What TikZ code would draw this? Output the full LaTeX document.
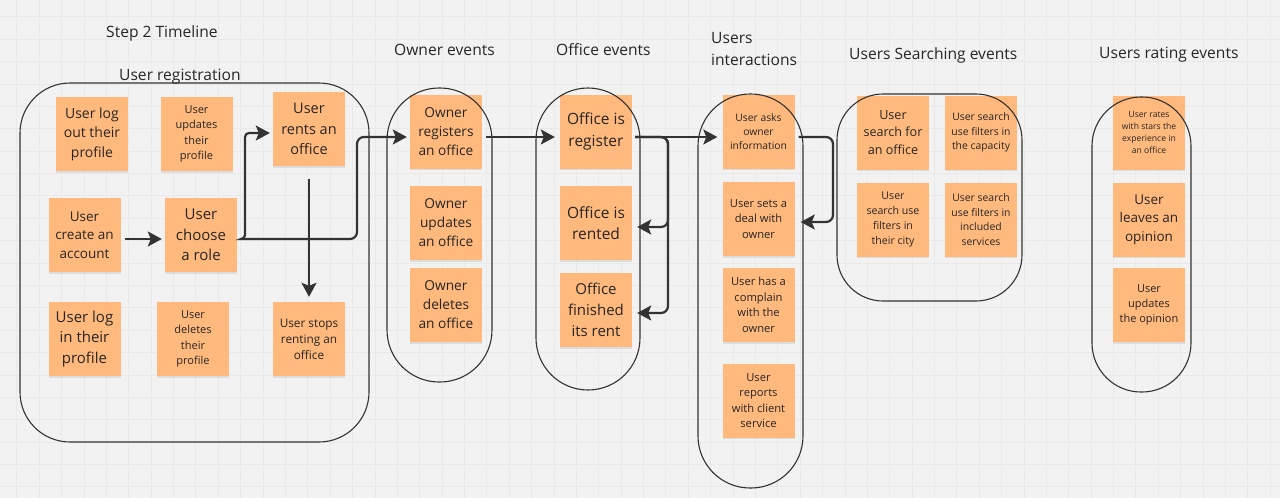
\documentclass[tikz,border=0pt]{standalone}
\usepackage{fontspec}
\setmainfont{Open Sans}
\usetikzlibrary{arrows.meta,calc,shadows}
\definecolor{bg}{RGB}{242,242,242}
\definecolor{gridc}{RGB}{233,233,233}
\definecolor{sticky}{RGB}{255,185,125}
\definecolor{ink}{RGB}{38,38,38}
\definecolor{arr}{RGB}{51,51,51}
\tikzset{
  note/.style={fill=sticky, minimum width=72pt, minimum height=74pt, inner sep=0pt, align=center, text=ink,
    drop shadow={shadow xshift=0pt, shadow yshift=-1.5pt, opacity=0.18}},
  fs/.style args={#1/#2}{font=\fontsize{#1}{#2}\selectfont},
  title/.style={font=\fontsize{15.6}{21.7}\selectfont, text=ink, inner sep=0pt, anchor=west, align=left},
  group/.style={draw=arr, line width=1.1pt},
  flow/.style={draw=arr, line width=2.2pt, rounded corners=7pt,
    -{Stealth[length=14pt, width=15pt, inset=3pt]}},
}
\begin{document}
\begin{tikzpicture}[x=1pt, y=-1pt]
  % background and grid
  \fill[bg] (0,0) rectangle (1280,498);
  \useasboundingbox (0,0) rectangle (1280,498);
  \foreach \i in {0,...,57} \draw[gridc, line width=0.7pt] ({16.8+22.38*\i},0) -- ({16.8+22.38*\i},498);
  \foreach \j in {0,...,21} \draw[gridc, line width=0.7pt] (0,{16.8+22.38*\j}) -- (1280,{16.8+22.38*\j});

  % titles
  \node[title] (t0) at (106,33) {Step 2 Timeline};
  \node[title] (t1) at (119,77) {User registration};
  \node[title] (t2) at (394,50) {Owner events};
  \node[title] (t3) at (556,50) {Office events};
  \node[title] (t4) at (711,49) {Users\\interactions};
  \node[title] (t5) at (849,55) {Users Searching events};
  \node[title] (t6) at (1099,55) {Users rating events};

  % user registration stickies
  \node[note, fs=14/19.5] (logout) at (92,134) {User log\\out their\\profile};
  \node[note, fs=11/15.3] (updates) at (196.5,134) {User\\updates\\their\\profile};
  \node[note, fs=14.5/20.5] (rents) at (309,129) {User\\rents an\\office};
  \node[note, fs=13.5/18.7] (create) at (84.5,235) {User\\create an\\account};
  \node[note, fs=15/20.7] (choose) at (201,235) {User\\choose\\a role};
  \node[note, fs=15/20.7] (login) at (84.5,339) {User log\\in their\\profile};
  \node[note, fs=11/15.3] (deletes) at (193,339) {User\\deletes\\their\\profile};
  \node[note, fs=11.8/16] (stops) at (309,339) {User stops\\renting an\\office};

  % owner events
  \node[note, fs=13.7/19] (own1) at (446,131.5) {Owner\\registers\\an office};
  \node[note, fs=13.7/19] (own2) at (446,223) {Owner\\updates\\an office};
  \node[note, fs=13.7/19] (own3) at (446,305) {Owner\\deletes\\an office};

  % office events
  \node[note, fs=15.5/21.7] (off1) at (596,131.5) {Office is\\register};
  \node[note, fs=15.5/21.7] (off2) at (596,223) {Office is\\rented};
  \node[note, fs=15/20.7] (off3) at (596,310) {Office\\finished\\its rent};

  % users interactions
  \node[note, fs=10.3/14.3] (ui1) at (758.5,131.5) {User asks\\owner\\information};
  \node[note, fs=11.2/15.5] (ui2) at (758.5,219) {User sets a\\deal with\\owner};
  \node[note, fs=11.2/15.5] (ui3) at (758.5,305) {User has a\\complain\\with the\\owner};
  \node[note, fs=11.2/15.5] (ui4) at (758.5,400.5) {User\\reports\\with client\\service};

  % searching events
  \node[note, fs=12.6/17.5] (s1) at (893,132.5) {User\\search for\\an office};
  \node[note, fs=10.4/14.5] (s2) at (981,132.5) {User search\\use filters in\\the capacity};
  \node[note, fs=10.6/15.3] (s3) at (893,219.5) {User\\search use\\filters in\\their city};
  \node[note, fs=10.4/14.5] (s4) at (981,219.5) {User search\\use filters in\\included\\services};

  % rating events
  \node[note, fs=8.6/12] (r1) at (1149,132.5) {User rates\\with stars the\\experience in\\an office};
  \node[note, fs=13.5/18.7] (r2) at (1149,219.5) {User\\leaves an\\opinion};
  \node[note, fs=11/15.3] (r3) at (1149,305) {User\\updates\\the opinion};

  % group outlines
  \draw[group, rounded corners=50pt] (20,83) rectangle (369,442);
  \draw[group, rounded corners=52pt] (387,88) rectangle (492,382);
  \draw[group, rounded corners=52pt] (536,88) rectangle (640,390);
  \draw[group, rounded corners=52pt] (698,94) rectangle (803,488);
  \draw[group, rounded corners=46pt] (837,94) rectangle (1022,301);
  \draw[group, rounded corners=49pt] (1092,97) rectangle (1191,392);

  % bend points
  \coordinate (b1) at (245,239);
  \coordinate (b2) at (357,239);
  \coordinate (b3) at (668,137);
  \coordinate (b4) at (833,137);

  % connectors
  \draw[flow, shorten <=4pt, shorten >=3pt] (create.east |- 0,239) -- (choose.west |- 0,239);
  \draw[flow, shorten <=4pt, shorten >=3pt, rounded corners=4pt] (choose.east |- 0,239) -- (b1) |- (rents.west |- 0,133);
  \draw[flow, shorten <=4pt, shorten >=3pt] (choose.east |- 0,239) -- (b2) |- (own1.west |- 0,137);
  \draw[flow, shorten <=13pt, shorten >=5pt] (rents.south) -- (stops.north);
  \draw[flow, shorten <=4pt, shorten >=5pt] (own1.east |- 0,137) -- (off1.west |- 0,137);
  \draw[flow, shorten <=3pt, shorten >=5pt] (off1.east |- 0,137) -- (ui1.west |- 0,137);
  \draw[flow, shorten <=3pt, shorten >=5pt] (off1.east |- 0,137) -- (b3) |- (off2.east |- 0,227);
  \draw[flow, shorten <=3pt, shorten >=5pt] (off1.east |- 0,137) -- (b3) |- (off3.east |- 0,313);
  \draw[flow, shorten <=4pt, shorten >=6pt] (ui1.east |- 0,137) -- (b4) |- (ui2.east |- 0,222);
\end{tikzpicture}
\end{document}
